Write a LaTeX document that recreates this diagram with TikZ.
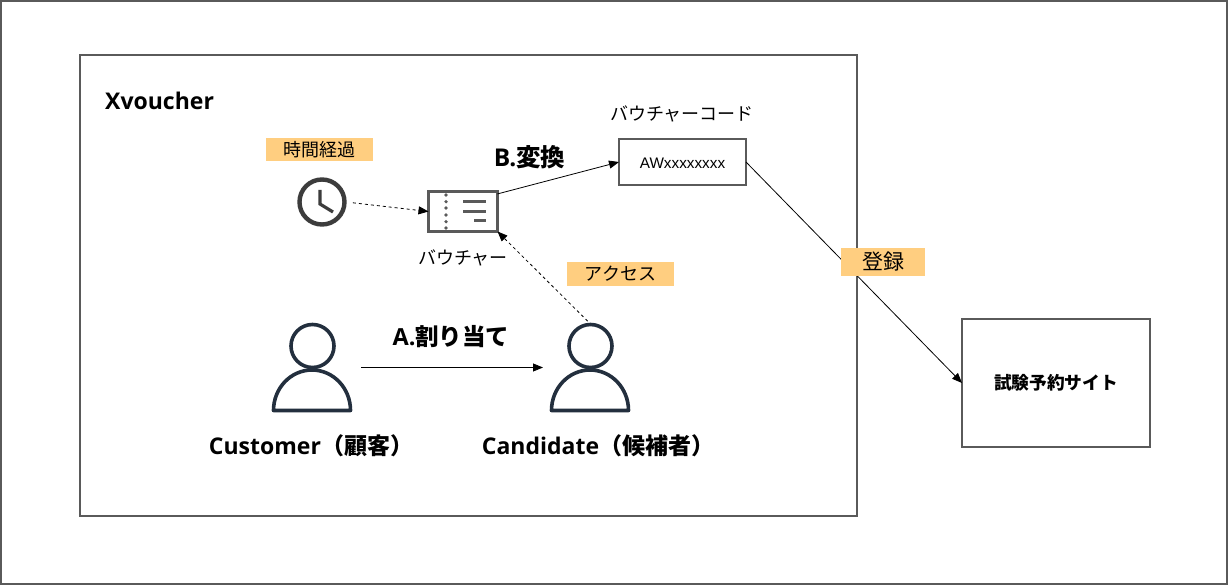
\documentclass[tikz,border=0pt]{standalone}
\usepackage{fontspec}
\setmainfont{Open Sans}
\newfontfamily\jp{Noto Sans CJK JP}
\newfontfamily\ar{Liberation Sans}
\usetikzlibrary{arrows.meta}
\definecolor{frameC}{HTML}{5A5A5A}
\definecolor{tagC}{HTML}{FFCE80}
\definecolor{iconC}{HTML}{232F3E}
\definecolor{clockC}{HTML}{3C3C3C}
\tikzset{
 x=1pt,y=-1pt,
 framebox/.style={draw=frameC,line width=1.6pt,fill=white,inner sep=0,outer sep=0,anchor=north west},
 tag/.style={fill=tagC,inner sep=0,outer sep=0,font=\jp\fontsize{18}{18}\selectfont,text=black},
 plain/.style={inner sep=0,outer sep=0,font=\jp\fontsize{18}{18}\selectfont,text=black},
 boldtxt/.style={inner sep=0,text=black,font=\bfseries\fontsize{23}{24}\selectfont},
 icon/.style={inner sep=0,outer sep=0,anchor=north west},
 conn/.style={draw=black,line width=0.8pt,-{Triangle[length=10pt,width=8pt]}},
 dashconn/.style={conn,dash pattern=on 3pt off 3pt},
 persona/.style={draw=iconC,line width=3.6pt,line join=round}
}
\begin{document}
\begin{tikzpicture}
\useasboundingbox (0,0) rectangle (1229,585);
\node[framebox,minimum width=1226pt,minimum height=583pt] (outer) at (1,1) {};
\node[framebox,minimum width=777pt,minimum height=461pt] (xv) at (80,55) {};
\node[inner sep=0,anchor=west,font=\bfseries\fontsize{23}{24}\selectfont] (xvt) at (105,101) {Xvoucher};

% clock
\node[icon,minimum width=48pt,minimum height=48pt,circle,anchor=center] (clock) at (322,202) {};
\draw[draw=clockC,line width=4.4pt] (322,202) circle (22.5);
\draw[draw=clockC,line width=3.2pt] (320,190) -- (320,204) -- (333,212);
\node[tag,minimum width=107pt,minimum height=23pt] (t1) at (319.5,149.5) {時間経過};

% ticket
\node[icon,minimum width=69pt,minimum height=40pt,draw=frameC,line width=3pt,fill=white,anchor=center] (ticket) at (463,211.5) {};
\foreach \yy in {195,201.7,208,215,221.7,228} \fill[frameC] (446,\yy) circle (1.8);
\draw[frameC,line width=3pt] (463,202) -- (486,202) (463,212) -- (486,212) (474,221) -- (486,221);
\node[plain] (tl) at (463,258) {バウチャー};

% voucher code
\node[framebox,minimum width=127pt,minimum height=46pt] (code) at (619,139) {};
\node[inner sep=0,font=\ar\fontsize{15.3}{16}\selectfont] (codet) at (682.5,163) {AWxxxxxxxx};
\node[plain] (cl) at (682,114) {バウチャーコード};

% persons
\node[icon,minimum width=79pt,minimum height=87pt] (cust) at (273,324) {};
\draw[persona] (312.5,346) circle (21.5);
\draw[persona] (273.5,410.5) arc (180:360:38.5 and 40.5) -- cycle;
\node[icon,minimum width=79pt,minimum height=87pt] (cand) at (551,324) {};
\draw[persona] (590.5,346) circle (21.5);
\draw[persona] (551.5,410.5) arc (180:360:38.5 and 40.5) -- cycle;
\node[boldtxt] (custl) at (311,446) {Customer{\jp（顧客）}};
\node[boldtxt] (candl) at (598,446) {Candidate{\jp（候補者）}};

% site
\node[framebox,minimum width=188pt,minimum height=128pt] (site) at (962,319) {};
\node[inner sep=0,font=\jp\bfseries\fontsize{17.7}{18}\selectfont] (sitet) at (1056,383) {試験予約サイト};

% connectors
\draw[dashconn,shorten <=7pt] (clock.east) -- (ticket.west);
\draw[conn] (ticket.27) -- (code.west);
\draw[dashconn,shorten <=4pt] (cand.north) -- (ticket.south east);
\draw[conn,shorten <=9pt,shorten >=8pt] (cust.east) -- (cand.west);
\draw[conn] (code.east) -- (site.west);

% labels
\node[boldtxt,font=\jp\bfseries\fontsize{24.5}{25}\selectfont] (bl) at (529.5,157) {{\normalfont\rmfamily\bfseries B.}変換};
\node[boldtxt,font=\jp\bfseries\fontsize{23.5}{24}\selectfont] (al) at (451,337) {{\rmfamily\bfseries A.}割り当て};
\node[tag,minimum width=107pt,minimum height=24pt] (t2) at (620.5,274) {アクセス};
\node[tag,minimum width=84pt,minimum height=28pt,font=\jp\fontsize{21}{21}\selectfont] (t3) at (883,262) {登録};
\end{tikzpicture}
\end{document}
